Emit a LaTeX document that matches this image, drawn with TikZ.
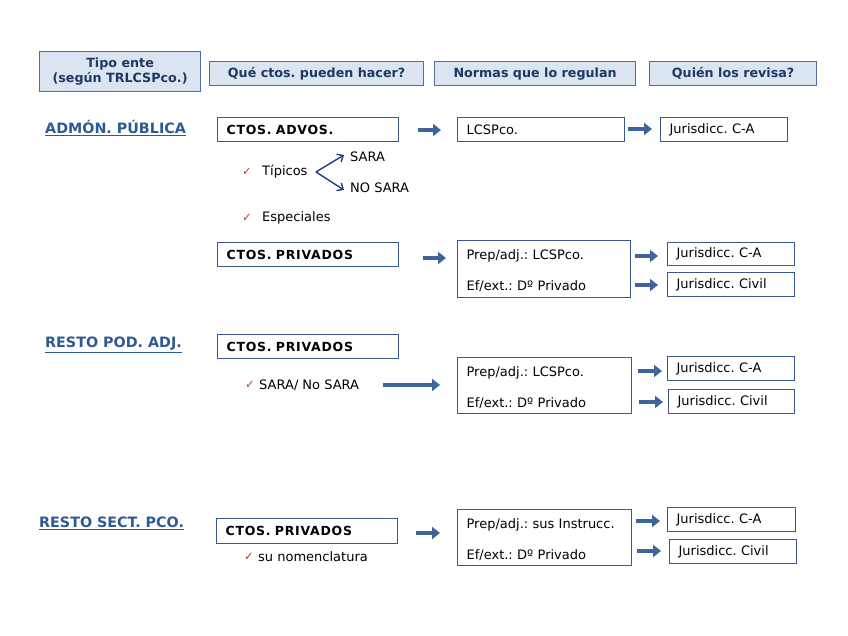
\documentclass[tikz,border=0pt]{standalone}
\usepackage{fontspec}
\setmainfont{DejaVu Sans}
\usetikzlibrary{arrows.meta}
\definecolor{hdrfill}{HTML}{DBE5F1}
\definecolor{hdrborder}{HTML}{4F6F9F}
\definecolor{boxborder}{HTML}{3A5A8F}
\definecolor{navy}{HTML}{1F3864}
\definecolor{titlecol}{HTML}{2E5A94}
\definecolor{arrowcol}{HTML}{3F6499}
\definecolor{checkred}{HTML}{C0392B}
\definecolor{forkcol}{HTML}{1F3C88}
\newcommand\mystrut{\rule{0pt}{14pt}}
\frenchspacing
\begin{document}
\frenchspacing
\begin{tikzpicture}[x=1pt,y=-1pt,
  hdr/.style={draw=hdrborder, fill=hdrfill, line width=1.2pt, inner sep=0pt, anchor=north west, align=center,
    text=navy, font=\fontsize{12.7}{15}\selectfont\bfseries},
  box/.style={draw=boxborder, line width=1.2pt, inner xsep=9pt, inner ysep=0pt, anchor=north west, align=left,
    minimum height=24pt, font=\fontsize{13}{15}\selectfont},
  ctobox/.style={box, font=\fontsize{12.5}{15}\selectfont\bfseries\addfontfeatures{LetterSpace=6}},
  normbox/.style={box, font=\fontsize{13}{31}\selectfont},
  title/.style={anchor=west, inner sep=0pt, text=titlecol, font=\fontsize{14.3}{16}\selectfont\bfseries},
  txt/.style={anchor=west, inner sep=0pt, font=\fontsize{13}{15}\selectfont},
  chk/.style={anchor=west, inner sep=0pt, text=checkred, font=\fontsize{11.5}{12}\selectfont},
  barrow/.style={draw=arrowcol, line width=4.5pt, -{Triangle[length=8pt,width=12pt]}},
  fork/.style={draw=forkcol, line width=1.4pt, -{Straight Barb[length=5pt,width=9pt]}}
]
\useasboundingbox (0,0) rectangle (848,636);

% headers
\node[hdr, minimum width=161pt, minimum height=40pt] (h1) at (39,51) {Tipo ente\\(según TRLCSPco.)};
\node[hdr, minimum width=214pt, minimum height=24pt] (h2) at (209,61) {Qué ctos. pueden hacer?};
\node[hdr, minimum width=201pt, minimum height=24pt] (h3) at (434,61) {Normas que lo regulan};
\node[hdr, minimum width=167pt, minimum height=24pt] (h4) at (649,61) {Quién los revisa?};

% Row 1
\node[title] (t1) at (45,128) {\underline{ADMÓN. PÚBLICA}};
\node[ctobox, text width=163pt] (advos) at (217,117) {CTOS. ADVOS.};
\node[box, text width=149pt] (lcsp) at (457,117) {LCSPco.};
\node[box, text width=109pt] (jca1) at (660,117) {Jurisdicc. C-A};
\coordinate (a1s) at (418,130); \coordinate (a1e) at (441,130);
\draw[barrow] (a1s) -- (a1e);
\coordinate (a2s) at (628,129); \coordinate (a2e) at (652,129);
\draw[barrow] (a2s) -- (a2e);

\node[chk] (c1) at (242,172) {✓};
\node[txt] (tip) at (262,172) {Típicos};
\node[txt] (sara) at (350,157) {SARA};
\node[txt] (nosara) at (350,188) {NO SARA};
\coordinate (fk) at (316,172);
\coordinate (fk1) at (344,155);
\coordinate (fk2) at (344,190);
\draw[fork] (fk) -- (fk1);
\draw[fork] (fk) -- (fk2);
\node[chk] (c2) at (242,218) {✓};
\node[txt] (esp) at (262,218) {Especiales};

\node[ctobox, text width=163pt] (priv1) at (217,242) {CTOS. PRIVADOS};
\coordinate (b1s) at (423,258); \coordinate (b1e) at (446,258);
\draw[barrow] (b1s) -- (b1e);
\node[normbox, text width=155pt, minimum height=57pt] (norm1) at (457,240) {\mystrut Prep/adj.: LCSPco.\\Ef/ext.: Dº Privado};
\node[box, text width=109pt, minimum height=23pt] (jca2) at (667,242) {Jurisdicc. C-A};
\node[box, text width=109pt] (jciv2) at (667,272) {Jurisdicc. Civil};
\coordinate (b2s) at (635,256); \coordinate (b2e) at (658,256);
\draw[barrow] (b2s) -- (b2e);
\coordinate (b3s) at (635,285); \coordinate (b3e) at (658,285);
\draw[barrow] (b3s) -- (b3e);

% Row 2
\node[title] (t2) at (45,345) {\underline{RESTO POD. ADJ.}};
\node[ctobox, text width=163pt] (priv2) at (217,334) {CTOS. PRIVADOS};
\node[chk] (c3) at (245,385) {✓};
\node[txt] (sns) at (259,385) {SARA/ No SARA};
\coordinate (d1s) at (383,385); \coordinate (d1e) at (440,385);
\draw[barrow] (d1s) -- (d1e);
\node[normbox, text width=156pt, minimum height=56pt] (norm2) at (457,357) {\mystrut Prep/adj.: LCSPco.\\Ef/ext.: Dº Privado};
\node[box, text width=109pt] (jca3) at (667,356) {Jurisdicc. C-A};
\node[box, text width=108pt] (jciv3) at (668,389) {Jurisdicc. Civil};
\coordinate (d2s) at (638,371); \coordinate (d2e) at (662,371);
\draw[barrow] (d2s) -- (d2e);
\coordinate (d3s) at (639,402); \coordinate (d3e) at (663,402);
\draw[barrow] (d3s) -- (d3e);

% Row 3
\node[title] (t3) at (39,523) {\underline{RESTO SECT. PCO.}};
\node[ctobox, text width=163pt, minimum height=25pt] (priv3) at (216,518) {CTOS. PRIVADOS};
\coordinate (e1s) at (416,533); \coordinate (e1e) at (440,533);
\draw[barrow] (e1s) -- (e1e);
\node[chk] (c4) at (244,557) {✓};
\node[txt] (nom) at (258,557) {su nomenclatura};
\node[normbox, text width=156pt, minimum height=56pt] (norm3) at (457,509) {\mystrut Prep/adj.: sus Instrucc.\\Ef/ext.: Dº Privado};
\node[box, text width=110pt] (jca4) at (667,507) {Jurisdicc. C-A};
\node[box, text width=109pt] (jciv4) at (669,539) {Jurisdicc. Civil};
\coordinate (e2s) at (636,521); \coordinate (e2e) at (660,521);
\draw[barrow] (e2s) -- (e2e);
\coordinate (e3s) at (637,551); \coordinate (e3e) at (661,551);
\draw[barrow] (e3s) -- (e3e);
\end{tikzpicture}
\end{document}
